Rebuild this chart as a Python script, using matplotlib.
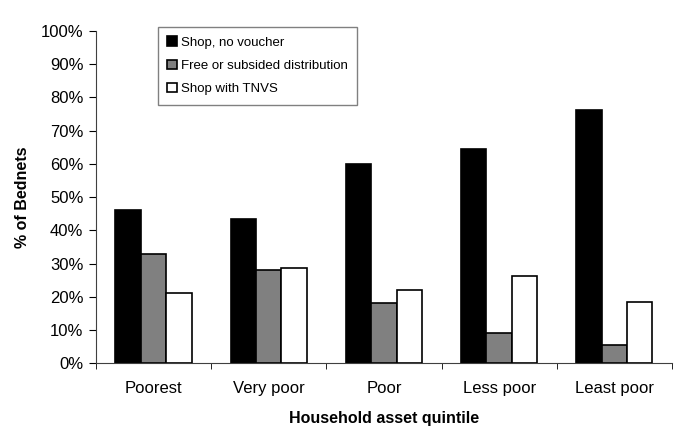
import matplotlib.pyplot as plt
import numpy as np

plt.rcParams['font.family'] = ['Liberation Sans', 'DejaVu Sans']

categories = ["Poorest", "Very poor", "Poor", "Less poor", "Least poor"]
shop_no_voucher = [46.2, 43.5, 60.0, 64.5, 76.2]
free_subsided = [33.0, 28.0, 18.0, 9.2, 5.5]
shop_tnvs = [21.0, 28.5, 22.0, 26.3, 18.5]
series_names = ["Shop, no voucher", "Free or subsided distribution", "Shop with TNVS"]

fig = plt.figure(figsize=(6.85, 4.38), dpi=100)
ax = fig.add_axes([0.140, 0.171, 0.841, 0.758])

x = np.arange(len(categories))
w = 0.22
colors = ["black", "#808080", "white"]
for i, (vals, c) in enumerate(zip([shop_no_voucher, free_subsided, shop_tnvs], colors)):
    ax.bar(x + (i - 1) * w, vals, width=w, color=c, edgecolor="black",
           linewidth=1.2, label=series_names[i])

ax.set_xlim(-0.5, len(categories) - 0.5)
ax.set_ylim(0, 100)
ax.set_yticks(np.arange(0, 101, 10))
ax.set_yticklabels([f"{v}%" for v in range(0, 101, 10)], fontsize=12)
ax.set_xticks(x)
ax.set_xticklabels(categories, fontsize=12)
ax.tick_params(axis='x', length=0, pad=13)
ax.set_xticks(np.arange(-0.5, len(categories)), minor=True)
ax.tick_params(axis='x', which='minor', length=4, direction='out')
ax.tick_params(axis='y', length=5, direction='out', pad=4)

for s in ['top', 'right']:
    ax.spines[s].set_visible(False)
ax.spines['left'].set_color('#404040')
ax.spines['bottom'].set_color('#404040')

ax.set_ylabel("% of Bednets", fontsize=11.5, fontweight='bold', labelpad=8)
ax.set_xlabel("Household asset quintile", fontsize=11.5, fontweight='bold', labelpad=11)

leg = ax.legend(loc='upper left', bbox_to_anchor=(0.108, 1.012), fontsize=9.5,
                handlelength=0.7, handleheight=0.7, handletextpad=0.3,
                labelspacing=0.85, borderpad=0.7, borderaxespad=0, fancybox=False,
                edgecolor='#808080', framealpha=1)
leg.get_frame().set_linewidth(1.0)

fig.savefig("out.png", dpi=100)
